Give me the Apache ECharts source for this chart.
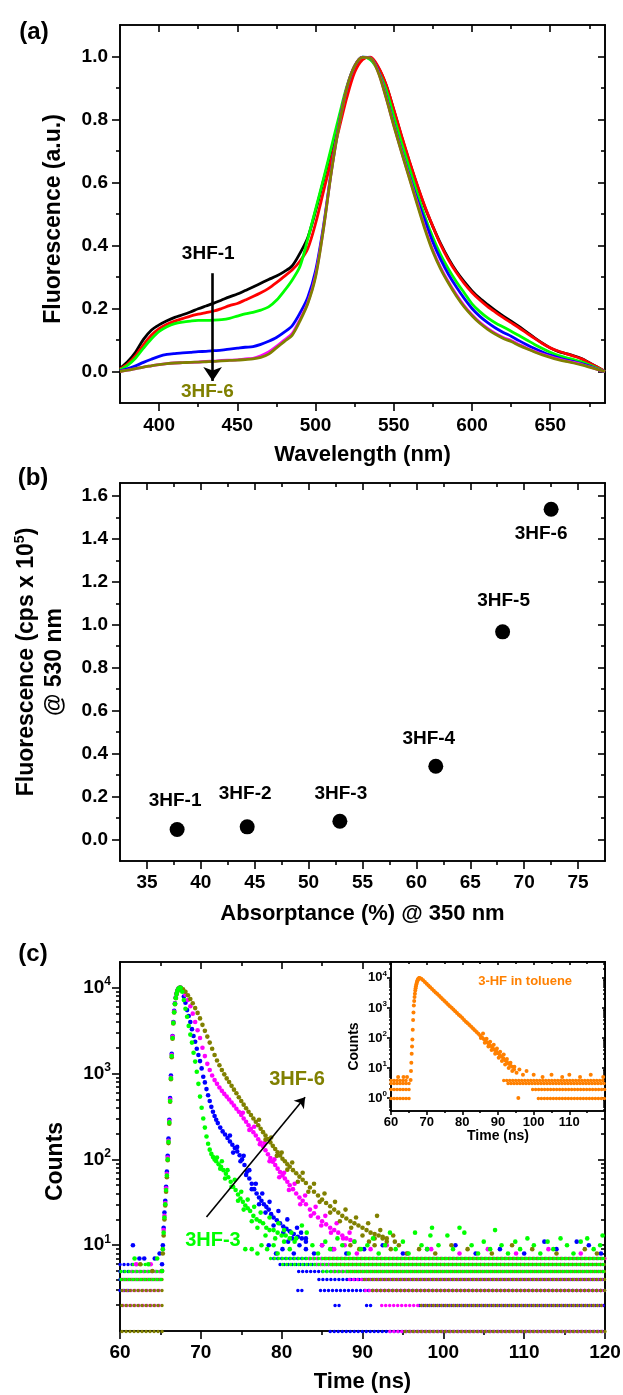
<!DOCTYPE html>
<html>
<head>
<meta charset="utf-8">
<script src="https://cdn.jsdelivr.net/npm/echarts@6/dist/echarts.min.js"></script>
<style>
  html, body { margin: 0; padding: 0; background: #fff; }
  #chart { width: 623px; height: 1395px; }
</style>
</head>
<body>
<div id="chart"></div>
<script>
// ---------- (a) normalised emission spectra ----------
const wavelength = [375, 380, 385, 390, 395, 400, 405, 410, 415, 420, 425, 430, 435, 440, 445, 450,
  455, 460, 465, 470, 475, 480, 485, 490, 495, 500, 505, 510, 515, 520, 525, 530, 535, 540, 545, 550,
  555, 560, 565, 570, 575, 580, 585, 590, 595, 600, 605, 610, 615, 620, 625, 630, 635, 640, 645, 650,
  655, 660, 665, 670, 675, 680, 685];
const spec3HF1 = [0.010, 0.032, 0.062, 0.102, 0.131, 0.148, 0.161, 0.172, 0.180, 0.189, 0.199, 0.208, 0.217, 0.227, 0.237, 0.246, 0.257, 0.268, 0.280, 0.292, 0.303, 0.317, 0.335, 0.375,
  0.425, 0.510, 0.605, 0.700, 0.800, 0.895, 0.965, 0.997,
  0.995, 0.965, 0.910, 0.830, 0.745, 0.665, 0.590, 0.520, 0.460, 0.405, 0.358, 0.318, 0.285, 0.256, 0.232, 0.212, 0.193, 0.176, 0.160, 0.143, 0.125, 0.107, 0.090, 0.075, 0.064, 0.057, 0.050, 0.041, 0.028, 0.014, 0.000];
const spec3HF2 = [0.008, 0.024, 0.050, 0.085, 0.115, 0.136, 0.150, 0.160, 0.168, 0.176, 0.182, 0.187, 0.192, 0.200, 0.209, 0.216, 0.227, 0.238, 0.250, 0.264, 0.282, 0.302, 0.322, 0.350,
  0.390, 0.470, 0.570, 0.670, 0.770, 0.870, 0.950, 0.990,
  0.998, 0.968, 0.912, 0.832, 0.748, 0.668, 0.592, 0.522, 0.460, 0.402, 0.354, 0.314, 0.280, 0.251, 0.227, 0.206, 0.188, 0.171, 0.155, 0.139, 0.122, 0.105, 0.089, 0.075, 0.065, 0.057, 0.049, 0.040, 0.027, 0.014, 0.000];
const spec3HF3 = [0.005, 0.020, 0.043, 0.074, 0.103, 0.127, 0.142, 0.152, 0.157, 0.160, 0.162, 0.162, 0.163, 0.165, 0.169, 0.176, 0.183, 0.188, 0.195, 0.205, 0.226, 0.256, 0.290, 0.333,
  0.420, 0.515, 0.610, 0.710, 0.810, 0.905, 0.970, 0.998,
  0.990, 0.955, 0.895, 0.810, 0.725, 0.645, 0.565, 0.490, 0.425, 0.370, 0.325, 0.285, 0.250, 0.215, 0.190, 0.170, 0.154, 0.141, 0.128, 0.114, 0.100, 0.086, 0.073, 0.061, 0.051, 0.044, 0.038, 0.031, 0.021, 0.010, 0.000];
const spec3HF4 = [0.002, 0.009, 0.018, 0.029, 0.039, 0.048, 0.054, 0.057, 0.059, 0.061, 0.063, 0.064, 0.066, 0.068, 0.071, 0.074, 0.077, 0.079, 0.086, 0.096, 0.108, 0.125, 0.145, 0.185,
  0.235, 0.320, 0.460, 0.635, 0.785, 0.900, 0.970, 0.998,
  0.995, 0.955, 0.875, 0.785, 0.700, 0.620, 0.545, 0.478, 0.410, 0.355, 0.308, 0.268, 0.232, 0.200, 0.175, 0.155, 0.138, 0.124, 0.112, 0.098, 0.085, 0.073, 0.062, 0.052, 0.044, 0.037, 0.031, 0.025, 0.017, 0.008, 0.000];
const spec3HF5 = [0.000, 0.004, 0.009, 0.014, 0.018, 0.022, 0.025, 0.027, 0.028, 0.029, 0.030, 0.032, 0.033, 0.035, 0.036, 0.037, 0.040, 0.042, 0.050, 0.062, 0.080, 0.100, 0.120, 0.165,
  0.218, 0.305, 0.452, 0.632, 0.782, 0.900, 0.970, 0.997,
  0.995, 0.952, 0.872, 0.782, 0.697, 0.615, 0.535, 0.455, 0.385, 0.330, 0.284, 0.244, 0.209, 0.180, 0.156, 0.137, 0.121, 0.108, 0.098, 0.086, 0.074, 0.064, 0.055, 0.047, 0.040, 0.034, 0.029, 0.023, 0.015, 0.007, 0.000];
const spec3HF6 = [0.000, 0.004, 0.009, 0.014, 0.018, 0.022, 0.025, 0.027, 0.028, 0.029, 0.030, 0.031, 0.032, 0.034, 0.035, 0.036, 0.038, 0.040, 0.045, 0.055, 0.075, 0.095, 0.115, 0.160,
  0.215, 0.300, 0.450, 0.630, 0.780, 0.900, 0.970, 0.997,
  0.995, 0.950, 0.870, 0.780, 0.695, 0.612, 0.530, 0.450, 0.380, 0.325, 0.280, 0.240, 0.205, 0.177, 0.153, 0.134, 0.118, 0.105, 0.095, 0.083, 0.072, 0.062, 0.053, 0.045, 0.038, 0.032, 0.027, 0.021, 0.014, 0.007, 0.000];

// ---------- (b) fluorescence at 530 nm vs absorptance ----------
const sampleNames = ['3HF-1', '3HF-2', '3HF-3', '3HF-4', '3HF-5', '3HF-6'];
const absorptance = [37.8, 44.3, 52.9, 61.8, 68.0, 72.5];
const fluor530 = [0.047, 0.059, 0.085, 0.341, 0.967, 1.538];

// ---------- (c) decays, [time ns, counts] ----------
const decay3HF3 = [[65.2, 5], [65.3, 9], [65.4, 14], [65.5, 21], [65.6, 30], [65.7, 44], [65.8, 65], [65.9, 100], [66.0, 160], [66.1, 270], [66.2, 480], [66.3, 880], [66.4, 1600], [66.5, 2600], [66.6, 3900], [66.7, 5200], [66.8, 6500], [66.9, 7600], [67.0, 8500], [67.1, 9200], [67.2, 9700], [67.35, 10000],
  [67.5, 10000], [67.7, 9000], [67.9, 7200], [68.1, 5700], [68.3, 4600], [68.5, 3600], [68.7, 2850], [68.9, 2300], [69.1, 1750], [69.3, 1380], [69.5, 1050], [69.7, 760], [69.9, 540], [70.1, 400], [70.3, 300], [70.5, 235], [70.7, 185], [70.9, 152], [71.1, 130], [71.3, 116], [71.5, 107], [71.7, 100], [71.9, 95],
  [72.2, 88], [72.5, 82], [72.8, 75], [73.1, 68], [73.4, 62], [73.7, 55], [74.0, 48], [74.3, 44], [74.6, 39], [74.9, 35], [75.2, 32], [75.5, 29], [75.8, 27], [76.1, 25], [76.5, 22], [76.9, 20], [77.3, 19], [77.7, 18], [78.1, 16], [78.5, 15], [79.0, 15], [79.5, 14], [80.0, 13], [80.5, 13], [81.0, 12], [81.6, 11],
  [72.0, 105], [72.4, 78], [72.6, 95], [73.0, 60], [73.3, 75], [73.8, 48], [74.2, 58], [74.6, 33], [75.0, 42], [75.3, 26], [75.8, 34], [76.3, 19], [76.6, 28], [77.0, 16], [77.4, 24], [78.0, 13], [78.5, 21], [79.2, 12], [79.6, 18], [80.3, 15], [81.2, 14], [81.8, 12], [76.3, 9]];
const decay3HF4 = [[65.2, 6], [65.3, 10], [65.4, 16], [65.5, 24], [65.6, 33], [65.7, 48], [65.8, 72], [65.9, 110], [66.0, 175], [66.1, 290], [66.2, 520], [66.3, 950], [66.4, 1700], [66.5, 2750], [66.6, 4000], [66.7, 5400], [66.8, 6600], [66.9, 7700], [67.0, 8600], [67.1, 9300], [67.25, 9800], [67.4, 10000],
  [67.5, 10000], [67.7, 9300], [67.9, 7900], [68.1, 6700], [68.3, 5500], [68.5, 4700], [68.7, 4000], [68.9, 3300], [69.1, 2750], [69.3, 2350], [69.5, 1950], [69.7, 1650], [69.9, 1400], [70.1, 1150], [70.3, 920], [70.5, 790], [70.7, 660], [70.9, 560], [71.1, 480], [71.3, 410], [71.5, 360], [71.7, 320], [71.9, 290],
  [72.1, 265], [72.4, 235], [72.7, 212], [73.0, 195], [73.3, 178], [73.6, 162], [73.9, 148], [74.2, 136], [74.5, 124], [74.8, 112], [75.1, 100], [75.4, 86], [75.7, 72], [76.0, 60], [76.3, 52], [76.6, 45], [76.9, 40], [77.2, 36], [77.5, 33], [77.8, 30], [78.1, 28], [78.4, 26], [78.7, 23], [79.0, 21], [79.4, 19.5], [79.8, 18], [80.2, 16.5], [80.6, 15.5], [81.0, 14.5], [81.5, 13.5], [82.0, 12.5], [82.5, 12], [83.0, 11],
  [73.6, 190], [74.0, 120], [74.5, 140], [74.9, 95], [75.3, 110], [75.6, 66], [76.0, 75], [76.3, 45], [76.8, 52], [77.2, 30], [77.6, 40], [78.0, 24], [78.5, 32], [79.0, 17], [79.6, 25], [80.2, 14], [80.7, 20], [81.3, 12], [81.9, 16], [82.4, 14], [83.0, 12]];
const decay3HF5 = [[65.2, 5], [65.3, 9], [65.4, 15], [65.5, 22], [65.6, 31], [65.7, 46], [65.8, 68], [65.9, 105], [66.0, 165], [66.1, 280], [66.2, 500], [66.3, 900], [66.4, 1650], [66.5, 2700], [66.6, 3950], [66.7, 5300], [66.8, 6550], [66.9, 7650], [67.0, 8550], [67.1, 9250], [67.25, 9800], [67.4, 10000],
  [67.5, 10000], [67.8, 9400], [68.1, 8300], [68.4, 7200], [68.7, 6100], [69.0, 5000], [69.3, 4000], [69.6, 3200], [69.9, 2600], [70.2, 2000], [70.5, 1600], [70.8, 1300], [71.1, 1100], [71.4, 950], [71.7, 840], [72.0, 760], [72.3, 690], [72.6, 630], [72.9, 580], [73.2, 540], [73.5, 500], [73.8, 460],
  [74.1, 425], [74.4, 390], [74.7, 360], [75.0, 330], [75.3, 300], [75.6, 275], [75.9, 250], [76.2, 228], [76.5, 207], [76.8, 190], [77.1, 172], [77.4, 157], [77.7, 142], [78.0, 128], [78.3, 115], [78.6, 104], [78.9, 94], [79.2, 86], [79.5, 78], [79.8, 71], [80.1, 65], [80.4, 60], [80.7, 55], [81.0, 50], [81.4, 45], [81.8, 40],
  [82.2, 36], [82.6, 33], [83.0, 30], [83.5, 26], [84.0, 23.5], [84.5, 21], [85.0, 19], [85.5, 17.5], [86.0, 16], [86.5, 15], [87.0, 14], [87.5, 13], [88.0, 12], [88.5, 11.5], [89.0, 11],
  [75.2, 350], [76.0, 220], [76.6, 240], [77.3, 150], [77.9, 155], [78.5, 95], [79.1, 100], [79.7, 62], [80.3, 70], [80.9, 44], [81.6, 52], [82.3, 30], [82.9, 38], [83.6, 22], [84.2, 28], [84.9, 17], [85.4, 22], [86.1, 14], [86.8, 18], [87.6, 12], [88.4, 14]];
const decay3HF6 = [[65.2, 5], [65.3, 8], [65.4, 13], [65.5, 20], [65.6, 29], [65.7, 42], [65.8, 62], [65.9, 98], [66.0, 155], [66.1, 260], [66.2, 470], [66.3, 860], [66.4, 1550], [66.5, 2550], [66.6, 3850], [66.7, 5150], [66.8, 6450], [66.9, 7550], [67.0, 8450], [67.1, 9150], [67.25, 9750], [67.4, 10000],
  [67.5, 10000], [67.8, 9600], [68.1, 9000], [68.4, 8200], [68.7, 7400], [69.0, 6600], [69.3, 5800], [69.6, 5100], [69.9, 4400], [70.2, 3700], [70.5, 3150], [70.8, 2700], [71.1, 2300], [71.4, 1950], [71.7, 1650], [72.0, 1420], [72.3, 1250], [72.6, 1100], [72.9, 980], [73.2, 880], [73.5, 800], [73.8, 720],
  [74.1, 650], [74.4, 590], [74.7, 530], [75.0, 480], [75.3, 435], [75.6, 395], [75.9, 360], [76.2, 330], [76.5, 300], [76.8, 275], [77.1, 250], [77.4, 228], [77.7, 208], [78.0, 190], [78.3, 173], [78.6, 158], [78.9, 144], [79.2, 132], [79.5, 121], [79.8, 111], [80.1, 102], [80.4, 95], [80.7, 88], [81.0, 82],
  [81.4, 75], [81.8, 69], [82.2, 63], [82.6, 58], [83.0, 53], [83.5, 47], [84.0, 42], [84.5, 38], [85.0, 34], [85.5, 31], [86.0, 28.5], [86.5, 26], [87.0, 24], [87.5, 22], [88.0, 20.5], [88.5, 19], [89.0, 18], [89.5, 17], [90.0, 16], [90.5, 15], [91.0, 14], [91.5, 13.5], [92.0, 13], [92.5, 12.5], [93.0, 12], [94.0, 11],
  [77.2, 290], [78.0, 170], [78.7, 180], [79.4, 110], [80.0, 120], [80.7, 76], [81.3, 92], [82.0, 55], [82.6, 70], [83.3, 42], [84.0, 52], [84.7, 32], [85.3, 40], [86.0, 24], [86.6, 32], [87.2, 19], [87.9, 26], [88.6, 16], [89.2, 21], [90.0, 13], [90.7, 18], [91.5, 12], [91.8, 22], [92.2, 15], [93.0, 11], [93.8, 13]];

// background counts scattered above the flat rows
const noise3HF3 = [[61.8, 7], [63.5, 6], [64.6, 7], [75.5, 9], [77.0, 8], [77.5, 10], [78.2, 9], [79.0, 10], [79.5, 8], [80.3, 11], [81.0, 9], [82.5, 17], [83.1, 14], [83.8, 10], [84.5, 8], [85.4, 11], [86.0, 9], [86.9, 12], [87.5, 10], [88.3, 8],
  [89.0, 11], [89.8, 9], [90.6, 10], [91.3, 12], [92.0, 8], [92.8, 10], [93.4, 14], [94.1, 9], [95.0, 11], [95.7, 8], [96.5, 14], [97.3, 10], [98.0, 9], [98.4, 13], [98.6, 16], [99.4, 10], [100.5, 13], [101.2, 9], [102.0, 16], [102.6, 14],
  [103.5, 10], [104.3, 8], [105.0, 11], [105.8, 9], [106.4, 15], [107.2, 10], [108.0, 8], [108.9, 11], [109.5, 9], [110.4, 12], [111.2, 10], [112.0, 8], [112.9, 11], [113.6, 9], [114.5, 12], [115.3, 10], [116.1, 8], [117.0, 11], [117.8, 12], [118.6, 9], [119.4, 10], [119.7, 13]];
const noise3HF4 = [[61.6, 10], [62.4, 7], [63.0, 7], [64.3, 7], [64.9, 8], [78.4, 10], [79.3, 8], [80.1, 9], [80.8, 11], [81.5, 8], [82.2, 10], [83.0, 9], [84.0, 8], [85.0, 10], [86.3, 9], [88.0, 8], [90.2, 9], [92.5, 10], [95.0, 8], [98.0, 9], [101.5, 10], [104.0, 8], [107.0, 9], [110.0, 8], [112.5, 11], [114.0, 9], [116.5, 11], [118.0, 10], [119.5, 8]];
const noise3HF5 = [[62.0, 6], [63.8, 6], [85.0, 10], [86.5, 9], [87.8, 10], [89.3, 8], [91.0, 9], [93.0, 10], [95.5, 8], [98.5, 9], [102.0, 8], [105.5, 9], [109.0, 8], [113.0, 9], [117.0, 8]];
const noise3HF6 = [[62.5, 6], [64.0, 5], [88.5, 10], [89.6, 9], [90.8, 11], [91.5, 10], [92.5, 12], [93.5, 9], [94.5, 10], [95.5, 8], [97.0, 9], [99.0, 8], [101.0, 10], [103.0, 9], [106.0, 8], [108.5, 10], [111.0, 9], [114.0, 8], [117.5, 9], [119.0, 8]];

// flat rows of low integer counts: [counts, from ns, to ns]
const rows3HF3 = [[4, 60, 65.2], [5, 60, 65.2], [6, 61.5, 63.8], [5, 85, 120], [6, 80, 120], [7, 78.5, 120]];
const rows3HF4 = [[3, 60, 61.4], [4, 60, 65.2], [5, 60, 65.2], [6, 60, 62.4], [1, 86, 120], [2, 86.6, 87.4], [2, 90.5, 91.2], [2, 97, 120], [3, 82, 82.7], [3, 84.8, 120], [4, 84.6, 120], [5, 82.1, 120], [6, 79.8, 120], [7, 79, 120]];
const rows3HF5 = [[2, 60, 65.2], [3, 60, 65.2], [4, 60, 65.2], [5, 61, 65.2], [1, 93, 120], [2, 92, 120], [3, 90, 120], [4, 88, 120], [5, 86, 120], [6, 84, 120], [7, 83, 120]];
const rows3HF6 = [[1, 60, 65.3], [2, 60, 65.2], [3, 60, 65.2], [4, 60, 65.2], [1, 95, 120], [2, 97, 120], [3, 91, 120], [4, 90, 120], [5, 88, 120], [6, 86, 120], [7, 85, 120]];

// inset: 3-HF in toluene
const decayToluene = [[65.5, 4], [65.6, 8], [65.7, 15], [65.8, 30], [65.9, 52], [66.0, 90], [66.1, 190], [66.2, 400], [66.3, 700], [66.4, 1200], [66.5, 1700], [66.6, 2300], [66.7, 3000], [66.8, 3800], [66.9, 4500], [67.0, 5300], [67.1, 6000], [67.2, 6800], [67.3, 7400], [67.4, 8000], [67.5, 8500], [67.6, 9000], [67.7, 9300], [67.8, 9600], [67.9, 9850], [68.0, 10000],
  [68.5, 9400], [69.0, 8300], [69.5, 7300], [70.0, 6400], [70.5, 5600], [71.0, 4900], [71.5, 4300], [72.0, 3750], [72.5, 3300], [73.0, 2900], [73.5, 2550], [74.0, 2230], [74.5, 1950], [75.0, 1700], [75.5, 1500], [76.0, 1310], [76.5, 1150], [77.0, 1010], [77.5, 890], [78.0, 780], [78.5, 680], [79.0, 600], [79.5, 525], [80.0, 460],
  [80.5, 400], [81.0, 350], [81.5, 310], [82.0, 270], [82.5, 236], [83.0, 207], [83.5, 180], [84.0, 158], [84.5, 138], [85.0, 121], [85.5, 106], [86.0, 93], [86.5, 81], [87.0, 71], [87.5, 62], [88.0, 54], [88.5, 47], [89.0, 41], [89.5, 36], [90.0, 31], [90.5, 27], [91.0, 24], [91.5, 21], [92.0, 18], [92.5, 16], [93.0, 14], [93.5, 12], [94.0, 11], [94.5, 9],
  [85.2, 100], [85.8, 140], [86.3, 70], [86.8, 95], [87.3, 52], [87.8, 75], [88.2, 40], [88.8, 60], [89.2, 30], [89.7, 45], [90.2, 22], [90.6, 35], [91.1, 17], [91.6, 28], [92.0, 13], [92.5, 20], [93.0, 10], [93.5, 15], [94.0, 8], [94.6, 11], [95.2, 7], [95.7, 1], [96.0, 9], [97.0, 6], [98.0, 8], [100.0, 6], [102.5, 5], [105.0, 6], [108.0, 5], [110.0, 6], [113.0, 5], [116.0, 6], [119.5, 5], [62.0, 5], [63.5, 5], [64.5, 5]];
const rowsToluene = [[1, 60, 65.3], [2, 60, 65.3], [3, 60, 65.3], [4, 60, 65.0], [1, 101.3, 120], [2, 99.7, 120], [3, 92.8, 120], [4, 91.6, 120]];

// ---------- tick values ----------
const aXTicks = [400, 450, 500, 550, 600, 650], aXMinor = [425, 475, 525, 575, 625, 675];
const aYTicks = [0, 0.2, 0.4, 0.6, 0.8, 1.0], aYMinor = [0.1, 0.3, 0.5, 0.7, 0.9];
const bXTicks = [35, 40, 45, 50, 55, 60, 65, 70, 75], bXMinor = [37.5, 42.5, 47.5, 52.5, 57.5, 62.5, 67.5, 72.5];
const bYTicks = [0, 0.2, 0.4, 0.6, 0.8, 1.0, 1.2, 1.4, 1.6], bYMinor = [0.1, 0.3, 0.5, 0.7, 0.9, 1.1, 1.3, 1.5];
const cXTicks = [60, 70, 80, 90, 100, 110, 120], cXMinor = [65, 75, 85, 95, 105, 115];
const cYDecades = [1, 2, 3, 4];
const insetXTicks = [60, 70, 80, 90, 100, 110], insetXMinor = [65, 75, 85, 95, 105, 115];
const insetYDecades = [0, 1, 2, 3, 4];
const cLogMax = Math.log10(20000);
const insetLogMin = -0.43, insetLogMax = 4.53;

// ---------- helpers ----------
const FONT = '"Liberation Sans", Arial, Helvetica, sans-serif';
const INK = { color: '#000', width: 1.6 };
const xAxes = [], yAxes = [];

function logMinors(lo, hi) {
  const out = [];
  for (let d = Math.floor(lo) - 1; d <= Math.ceil(hi); d++)
    for (let k = 2; k <= 9; k++) {
      const v = d + Math.log10(k);
      if (v > lo && v < hi) out.push(v);
    }
  return out;
}

function axis(o) {
  const a = {
    type: o.type || 'value', gridIndex: o.grid, position: o.pos,
    min: o.min, max: o.max, show: o.show !== false, silent: true, z: o.z || 0,
    axisLine: { show: true, onZero: false, lineStyle: INK },
    axisTick: { show: !!o.ticks, inside: !!o.inside, length: o.len || 0, customValues: o.ticks, lineStyle: INK },
    axisLabel: { show: false },
    splitLine: { show: false }, minorTick: { show: false }, minorSplitLine: { show: false },
    axisPointer: { show: false }
  };
  if (o.labels) {
    a.axisLabel = { show: true, customValues: o.labels, formatter: o.fmt, margin: o.margin,
      color: '#000', fontFamily: FONT, fontWeight: 'bold', fontSize: o.fs, rich: o.rich };
  }
  if (o.name) {
    Object.assign(a, { name: o.name, nameLocation: 'middle', nameGap: o.gap, nameMoveOverlap: false,
      nameTextStyle: Object.assign({ color: '#000', fontFamily: FONT, fontWeight: 'bold', fontSize: o.nfs }, o.nstyle || {}) });
  }
  return a;
}
function add(list, o) { list.push(axis(o)); return list.length - 1; }

// four framed sides: bottom/left carry labels, top/right mirror ticks inward
function frame(g, o) {
  const z = o.z || 0;
  const ix = add(xAxes, Object.assign({ grid: g, pos: 'bottom', min: o.x[0], max: o.x[1], ticks: o.xt, labels: o.xl, len: o.big, z }, o.xLab));
  add(xAxes, { grid: g, pos: 'bottom', min: o.x[0], max: o.x[1], ticks: o.xm, len: o.small, z });
  add(xAxes, { grid: g, pos: 'top', min: o.x[0], max: o.x[1], ticks: o.xt, inside: true, len: o.big - 1, z });
  add(xAxes, { grid: g, pos: 'top', min: o.x[0], max: o.x[1], ticks: o.xm, inside: true, len: o.small, z });
  let iy = -1;
  if (o.log) iy = add(yAxes, { grid: g, type: 'log', min: Math.pow(10, o.y[0]), max: Math.pow(10, o.y[1]), show: false });
  const iyl = add(yAxes, Object.assign({ grid: g, pos: 'left', min: o.y[0], max: o.y[1], ticks: o.yt, labels: o.yl, len: o.big, z }, o.yLab));
  add(yAxes, { grid: g, pos: 'left', min: o.y[0], max: o.y[1], ticks: o.ym, len: o.small, z });
  add(yAxes, { grid: g, pos: 'right', min: o.y[0], max: o.y[1], ticks: o.yt, inside: true, len: o.big - 1, z });
  add(yAxes, { grid: g, pos: 'right', min: o.y[0], max: o.y[1], ticks: o.ym, inside: true, len: o.small, z });
  return { x: ix, y: o.log ? iy : iyl };
}

const fix1 = v => v.toFixed(1);
const plain = v => String(v);
const supRich = (fs, ss, lh) => ({
  b: { fontSize: fs, fontWeight: 'bold', fontFamily: FONT, color: '#000', lineHeight: lh },
  s: { fontSize: ss, fontWeight: 'bold', fontFamily: FONT, color: '#000', lineHeight: ss, verticalAlign: 'top' }
});
const pow10 = v => '{b|10}{s|' + Math.round(v) + '}';

const A = frame(0, {
  x: [375, 685], y: [-0.1, 1.1], xt: aXTicks, xl: aXTicks, xm: aXMinor, yt: aYTicks, yl: aYTicks, ym: aYMinor, big: 8, small: 4,
  xLab: { fmt: plain, margin: 13, fs: 19, name: 'Wavelength (nm)', gap: 41, nfs: 22 },
  yLab: { fmt: fix1, margin: 12, fs: 19, name: 'Fluorescence (a.u.)', gap: 55, nfs: 23, nstyle: { padding: [0, 10, 0, 0] } }
});
const B = frame(1, {
  x: [32.5, 77.5], y: [-0.1, 1.66], xt: bXTicks, xl: bXTicks, xm: bXMinor, yt: bYTicks, yl: bYTicks, ym: bYMinor, big: 8, small: 4,
  xLab: { fmt: plain, margin: 12, fs: 19, name: 'Absorptance (%) @ 350 nm', gap: 42, nfs: 22 },
  yLab: { fmt: fix1, margin: 12, fs: 19, name: '{t|Fluorescence (cps x 10}{s|5}{t|)}\n{t|@ 530 nm}', gap: 51, nfs: 23,
    nstyle: { padding: [0, 0, 0, 20], rich: {
      t: { fontSize: 23, fontWeight: 'bold', fontFamily: FONT, color: '#000', lineHeight: 28 },
      s: { fontSize: 14, fontWeight: 'bold', fontFamily: FONT, color: '#000', lineHeight: 14, verticalAlign: 'top' } } } }
});
const C = frame(2, {
  x: [60, 120], y: [0, cLogMax], log: true, xt: cXTicks, xl: cXTicks, xm: cXMinor, yt: cYDecades, yl: cYDecades, ym: logMinors(0, cLogMax), big: 8, small: 4,
  xLab: { fmt: plain, margin: 12, fs: 19, name: 'Time (ns)', gap: 40, nfs: 22 },
  yLab: { fmt: pow10, margin: 9, rich: supRich(19, 12, 24), name: 'Counts', gap: 53, nfs: 23, nstyle: { padding: [0, 30, 0, 0] } }
});
const I = frame(3, {
  x: [60, 120], y: [insetLogMin, insetLogMax], log: true, z: 5, xt: insetXTicks, xl: insetXTicks, xm: insetXMinor, yt: insetYDecades, yl: insetYDecades,
  ym: logMinors(insetLogMin, insetLogMax), big: 4, small: 2,
  xLab: { fmt: plain, margin: 5, fs: 13, name: 'Time (ns)', gap: 18, nfs: 14 },
  yLab: { fmt: pow10, margin: 4, rich: supRich(13, 8, 16), name: 'Counts', gap: 30, nfs: 14, nstyle: { padding: [0, 20, 0, 0] } }
});

// ---------- series ----------
const series = [];
const specColors = ['#000000', '#ff0000', '#00ff00', '#0000ff', '#ff00ff', '#808000'];
[spec3HF1, spec3HF2, spec3HF3, spec3HF4, spec3HF5, spec3HF6].forEach((s, i) => {
  series.push({
    type: 'line', name: sampleNames[i], xAxisIndex: A.x, yAxisIndex: A.y,
    data: wavelength.map((w, k) => [w, s[k]]),
    showSymbol: false, smooth: 0.3, lineStyle: { width: 2.8, color: specColors[i] }, itemStyle: { color: specColors[i] }
  });
});
const txt = (coord, text, color, size) => ({ coord, label: { formatter: text, color, fontSize: size } });
const annot = (points, arrow, width, head) => ({
  markPoint: { silent: true, symbol: 'circle', symbolSize: 1, itemStyle: { color: 'rgba(0,0,0,0)' },
    label: { show: true, position: 'inside', fontFamily: FONT, fontWeight: 'bold' }, data: points },
  markLine: arrow ? { silent: true, symbol: ['none', 'arrow'], symbolSize: head, label: { show: false },
    itemStyle: { color: '#000' },
    lineStyle: { color: '#000', width, type: 'solid', opacity: 1 }, data: [[{ coord: arrow[0] }, { coord: arrow[1] }]] } : undefined
});
Object.assign(series[5], annot([txt([431.4, 0.374], '3HF-1', '#000', 19), txt([430.8, -0.064], '3HF-6', '#808000', 19)],
  [[434.2, 0.312], [434.2, -0.03]], 2.6, 14));

// (b)
const bLabelOffsets = [[-2, -29], [-2, -33], [1, -28], [-7, -28], [1, -31], [-10, 25]];
series.push({
  type: 'scatter', xAxisIndex: B.x, yAxisIndex: B.y, symbolSize: 15, itemStyle: { color: '#000', opacity: 1 },
  emphasis: { disabled: true },
  data: absorptance.map((x, i) => ({ name: sampleNames[i], value: [x, fluor530[i]], label: { offset: bLabelOffsets[i] } })),
  label: { show: true, position: 'inside', formatter: '{b}', color: '#000', opacity: 1, fontFamily: FONT, fontWeight: 'bold', fontSize: 19 }
});

// (c) rows first (dotted, interleaved), then the decay points
const decaySets = [
  { rows: rows3HF4, pts: decay3HF4.concat(noise3HF4), color: '#0000ff', off: 0 },
  { rows: rows3HF5, pts: decay3HF5.concat(noise3HF5), color: '#ff00ff', off: 1 },
  { rows: rows3HF6, pts: decay3HF6.concat(noise3HF6), color: '#808000', off: 2 },
  { rows: rows3HF3, pts: decay3HF3.concat(noise3HF3), color: '#00ff00', off: 3 }
];
const rowSeries = (rows, ax, color, dash, off, z) => ({
  type: 'lines', coordinateSystem: 'cartesian2d', xAxisIndex: ax.x, yAxisIndex: ax.y, silent: true, clip: false, z,
  data: rows.map(([c, t0, t1]) => ({ coords: [[t0, c], [t1, c]] })),
  lineStyle: { color, width: 3.4, type: dash, dashOffset: off, cap: 'round', opacity: 1, curveness: 0 }
});
decaySets.forEach(d => series.push(rowSeries(d.rows, C, d.color, [0.1, 3.9], d.off, 2)));
decaySets.forEach(d => series.push({
  type: 'scatter', xAxisIndex: C.x, yAxisIndex: C.y, symbolSize: 4.6, itemStyle: { color: d.color, opacity: 1 },
  emphasis: { disabled: true }, data: d.pts, z: 3
}));
Object.assign(series[series.length - 1], annot([txt([81.9, 865], '3HF-6', '#808000', 20), txt([71.5, 11.5], '3HF-3', '#00ff00', 20)],
  [[70.7, 21.3], [82.9, 530]], 1.6, 10));

// inset
series.push(rowSeries(rowsToluene, I, '#ff8000', [0.1, 2.9], 0, 6));
series.push(Object.assign({
  type: 'scatter', xAxisIndex: I.x, yAxisIndex: I.y, symbolSize: 4, itemStyle: { color: '#ff8000', opacity: 1 },
  emphasis: { disabled: true }, data: decayToluene, z: 6
}, annot([txt([97.6, 7900], '3-HF in toluene', '#ff8000', 13)])));

const panelTag = (x, y, t) => ({ type: 'text', x, y, silent: true,
  style: { text: t, font: 'bold 24px ' + FONT, fill: '#000', align: 'center', verticalAlign: 'middle' } });

const chart = echarts.init(document.getElementById('chart'));
chart.setOption({
  animation: false,
  backgroundColor: '#fff',
  grid: [
    { left: 120, top: 25, width: 485, height: 378, outerBoundsMode: 'none' },
    { left: 120, top: 483, width: 485, height: 378, outerBoundsMode: 'none' },
    { left: 120, top: 962, width: 485, height: 369, outerBoundsMode: 'none' },
    { left: 391, top: 962, width: 214, height: 149, outerBoundsMode: 'none', show: true, backgroundColor: '#fff', borderWidth: 0, z: 4 }
  ],
  xAxis: xAxes,
  yAxis: yAxes,
  series,
  graphic: [panelTag(34, 32, '(a)'), panelTag(33, 478, '(b)'), panelTag(33, 954, '(c)')]
});
</script>
</body>
</html>
